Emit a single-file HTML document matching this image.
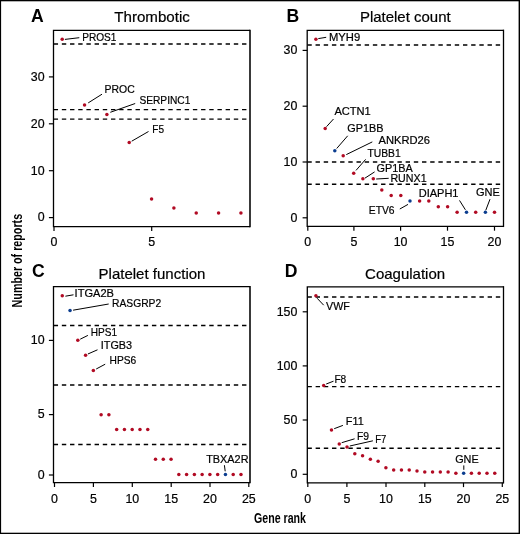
<!DOCTYPE html>
<html><head><meta charset="utf-8"><style>
html,body{margin:0;padding:0;background:#fff;}
svg{display:block;will-change:transform;}
text{font-family:"Liberation Sans", sans-serif;fill:#000;stroke:#000;stroke-width:0.2px;}
text.b{stroke-width:0;}
</style></head><body>
<svg width="520" height="534" viewBox="0 0 520 534">
<rect x="0" y="0" width="520" height="534" fill="#fff"/>
<text x="30.9" y="22" font-size="17.6" text-anchor="start" font-weight="bold" class="b" >A</text>
<text x="152.1" y="21.6" font-size="15" text-anchor="middle" font-weight="normal" textLength="75.6" lengthAdjust="spacingAndGlyphs" >Thrombotic</text>
<path d="M53.5,30.35H250.0M53.5,226.7H250.0M53.5,29.700000000000003V227.35" fill="none" stroke="#000" stroke-width="1.3"/>
<path d="M250.0,29.700000000000003V227.35" fill="none" stroke="#000" stroke-width="1.55"/>
<line x1="48.9" y1="217.6" x2="53.5" y2="217.6" stroke="#000" stroke-width="1.2" />
<text x="44.6" y="221.4" font-size="12.4" text-anchor="end" font-weight="normal" >0</text>
<line x1="48.9" y1="170.7" x2="53.5" y2="170.7" stroke="#000" stroke-width="1.2" />
<text x="44.6" y="174.5" font-size="12.4" text-anchor="end" font-weight="normal" >10</text>
<line x1="48.9" y1="123.8" x2="53.5" y2="123.8" stroke="#000" stroke-width="1.2" />
<text x="44.6" y="127.6" font-size="12.4" text-anchor="end" font-weight="normal" >20</text>
<line x1="48.9" y1="76.9" x2="53.5" y2="76.9" stroke="#000" stroke-width="1.2" />
<text x="44.6" y="80.7" font-size="12.4" text-anchor="end" font-weight="normal" >30</text>
<line x1="54.0" y1="226.7" x2="54.0" y2="231.0" stroke="#000" stroke-width="1.2" />
<text x="54.0" y="246.1" font-size="12.4" text-anchor="middle" font-weight="normal" >0</text>
<line x1="151.7" y1="226.7" x2="151.7" y2="231.0" stroke="#000" stroke-width="1.2" />
<text x="151.7" y="246.1" font-size="12.4" text-anchor="middle" font-weight="normal" >5</text>
<line x1="53.65" y1="44.0" x2="248.4" y2="44.0" stroke="#000" stroke-width="1.45" stroke-dasharray="4.4 3.79"/>
<line x1="53.65" y1="109.6" x2="248.4" y2="109.6" stroke="#000" stroke-width="1.45" stroke-dasharray="4.4 3.79"/>
<line x1="53.65" y1="119.1" x2="248.4" y2="119.1" stroke="#000" stroke-width="1.45" stroke-dasharray="4.4 3.79"/>
<circle cx="62.2" cy="39.2" r="1.75" fill="#b10a23"/>
<circle cx="84.54" cy="104.9" r="1.75" fill="#b10a23"/>
<circle cx="106.88" cy="114.4" r="1.75" fill="#b10a23"/>
<circle cx="129.22" cy="142.5" r="1.75" fill="#b10a23"/>
<circle cx="151.56" cy="198.9" r="1.75" fill="#b10a23"/>
<circle cx="173.9" cy="208.1" r="1.75" fill="#b10a23"/>
<circle cx="196.24" cy="213" r="1.75" fill="#b10a23"/>
<circle cx="218.58" cy="213" r="1.75" fill="#b10a23"/>
<circle cx="240.92" cy="213" r="1.75" fill="#b10a23"/>
<line x1="64.9" y1="39.4" x2="79.3" y2="37.7" stroke="#000" stroke-width="1" />
<text x="82.2" y="40.8" font-size="11" text-anchor="start" font-weight="normal" textLength="34.3" lengthAdjust="spacingAndGlyphs" >PROS1</text>
<line x1="88.2" y1="102.9" x2="102" y2="94.2" stroke="#000" stroke-width="1" />
<text x="104.5" y="93.3" font-size="11" text-anchor="start" font-weight="normal" textLength="30.2" lengthAdjust="spacingAndGlyphs" >PROC</text>
<line x1="110.3" y1="112.3" x2="135.2" y2="103.5" stroke="#000" stroke-width="1" />
<text x="139.4" y="104" font-size="11" text-anchor="start" font-weight="normal" textLength="51" lengthAdjust="spacingAndGlyphs" >SERPINC1</text>
<line x1="131.7" y1="141.2" x2="148.5" y2="131.5" stroke="#000" stroke-width="1" />
<text x="152.3" y="132.5" font-size="11" text-anchor="start" font-weight="normal" textLength="11.7" lengthAdjust="spacingAndGlyphs" >F5</text>
<text x="286.4" y="22" font-size="17.6" text-anchor="start" font-weight="bold" class="b" >B</text>
<text x="405.3" y="21.6" font-size="15" text-anchor="middle" font-weight="normal" textLength="90.7" lengthAdjust="spacingAndGlyphs" >Platelet count</text>
<path d="M307.2,30.3H503.5M307.2,226.4H503.5M307.2,29.650000000000002V227.05" fill="none" stroke="#000" stroke-width="1.3"/>
<path d="M503.5,29.650000000000002V227.05" fill="none" stroke="#000" stroke-width="1.3"/>
<line x1="302.59999999999997" y1="217.8" x2="307.2" y2="217.8" stroke="#000" stroke-width="1.2" />
<text x="297.4" y="221.60000000000002" font-size="12.4" text-anchor="end" font-weight="normal" >0</text>
<line x1="302.59999999999997" y1="162.0" x2="307.2" y2="162.0" stroke="#000" stroke-width="1.2" />
<text x="297.4" y="165.8" font-size="12.4" text-anchor="end" font-weight="normal" >10</text>
<line x1="302.59999999999997" y1="106.2" x2="307.2" y2="106.2" stroke="#000" stroke-width="1.2" />
<text x="297.4" y="110.0" font-size="12.4" text-anchor="end" font-weight="normal" >20</text>
<line x1="302.59999999999997" y1="50.4" x2="307.2" y2="50.4" stroke="#000" stroke-width="1.2" />
<text x="297.4" y="54.199999999999996" font-size="12.4" text-anchor="end" font-weight="normal" >30</text>
<line x1="307.8" y1="226.4" x2="307.8" y2="230.70000000000002" stroke="#000" stroke-width="1.2" />
<text x="307.8" y="246.0" font-size="12.4" text-anchor="middle" font-weight="normal" >0</text>
<line x1="353.9" y1="226.4" x2="353.9" y2="230.70000000000002" stroke="#000" stroke-width="1.2" />
<text x="353.9" y="246.0" font-size="12.4" text-anchor="middle" font-weight="normal" >5</text>
<line x1="400.6" y1="226.4" x2="400.6" y2="230.70000000000002" stroke="#000" stroke-width="1.2" />
<text x="400.6" y="246.0" font-size="12.4" text-anchor="middle" font-weight="normal" >10</text>
<line x1="447.5" y1="226.4" x2="447.5" y2="230.70000000000002" stroke="#000" stroke-width="1.2" />
<text x="447.5" y="246.0" font-size="12.4" text-anchor="middle" font-weight="normal" >15</text>
<line x1="494.5" y1="226.4" x2="494.5" y2="230.70000000000002" stroke="#000" stroke-width="1.2" />
<text x="494.5" y="246.0" font-size="12.4" text-anchor="middle" font-weight="normal" >20</text>
<line x1="307.34999999999997" y1="44.9" x2="501.9" y2="44.9" stroke="#000" stroke-width="1.45" stroke-dasharray="4.4 3.79"/>
<line x1="307.34999999999997" y1="162.0" x2="501.9" y2="162.0" stroke="#000" stroke-width="1.45" stroke-dasharray="4.4 3.79"/>
<line x1="307.34999999999997" y1="184.3" x2="501.9" y2="184.3" stroke="#000" stroke-width="1.45" stroke-dasharray="4.4 3.79"/>
<circle cx="315.9" cy="39.24" r="1.75" fill="#b10a23"/>
<circle cx="325.2" cy="128.52" r="1.75" fill="#b10a23"/>
<circle cx="334.8" cy="150.84" r="1.75" fill="#0b3d8f"/>
<circle cx="343.2" cy="155.8" r="1.75" fill="#b10a23"/>
<circle cx="353.7" cy="173.16" r="1.75" fill="#b10a23"/>
<circle cx="362.9" cy="178.74" r="1.75" fill="#b10a23"/>
<circle cx="373.3" cy="178.74" r="1.75" fill="#b10a23"/>
<circle cx="381.8" cy="189.9" r="1.75" fill="#b10a23"/>
<circle cx="391.2" cy="195.48" r="1.75" fill="#b10a23"/>
<circle cx="400.8" cy="195.48" r="1.75" fill="#b10a23"/>
<circle cx="410" cy="201.06" r="1.75" fill="#0b3d8f"/>
<circle cx="419.6" cy="201.06" r="1.75" fill="#b10a23"/>
<circle cx="428.8" cy="201.06" r="1.75" fill="#b10a23"/>
<circle cx="438.3" cy="206.64" r="1.75" fill="#b10a23"/>
<circle cx="447.6" cy="206.64" r="1.75" fill="#b10a23"/>
<circle cx="457.1" cy="212.22" r="1.75" fill="#b10a23"/>
<circle cx="466.5" cy="212.22" r="1.75" fill="#0b3d8f"/>
<circle cx="475.7" cy="212.22" r="1.75" fill="#b10a23"/>
<circle cx="485.4" cy="212.22" r="1.75" fill="#0b3d8f"/>
<circle cx="494.5" cy="212.22" r="1.75" fill="#b10a23"/>
<line x1="318.3" y1="38.6" x2="326.2" y2="37.3" stroke="#000" stroke-width="1" />
<text x="329" y="40.5" font-size="11" text-anchor="start" font-weight="normal" textLength="31.2" lengthAdjust="spacingAndGlyphs" >MYH9</text>
<line x1="326.5" y1="126.7" x2="333.5" y2="119" stroke="#000" stroke-width="1" />
<text x="334.4" y="114.6" font-size="11" text-anchor="start" font-weight="normal" textLength="36.4" lengthAdjust="spacingAndGlyphs" >ACTN1</text>
<line x1="336.7" y1="148.5" x2="347.7" y2="135.8" stroke="#000" stroke-width="1" />
<text x="347.3" y="131.5" font-size="11" text-anchor="start" font-weight="normal" textLength="36.2" lengthAdjust="spacingAndGlyphs" >GP1BB</text>
<line x1="346.3" y1="154.6" x2="372.3" y2="141.9" stroke="#000" stroke-width="1" />
<text x="378.5" y="144.2" font-size="11" text-anchor="start" font-weight="normal" textLength="51.5" lengthAdjust="spacingAndGlyphs" >ANKRD26</text>
<line x1="356" y1="170.4" x2="365.6" y2="159.4" stroke="#000" stroke-width="1" />
<text x="367.5" y="157.0" font-size="11" text-anchor="start" font-weight="normal" textLength="33.2" lengthAdjust="spacingAndGlyphs" >TUBB1</text>
<line x1="365" y1="178.1" x2="374.6" y2="171.9" stroke="#000" stroke-width="1" />
<text x="376.5" y="172" font-size="11" text-anchor="start" font-weight="normal" textLength="36.2" lengthAdjust="spacingAndGlyphs" >GP1BA</text>
<line x1="376.2" y1="179" x2="388.7" y2="178.3" stroke="#000" stroke-width="1" />
<text x="390.4" y="181.7" font-size="11" text-anchor="start" font-weight="normal" textLength="36.2" lengthAdjust="spacingAndGlyphs" >RUNX1</text>
<line x1="399.8" y1="209" x2="408" y2="204.4" stroke="#000" stroke-width="1" />
<text x="368.8" y="213.5" font-size="11" text-anchor="start" font-weight="normal" textLength="25.8" lengthAdjust="spacingAndGlyphs" >ETV6</text>
<line x1="459.5" y1="200.4" x2="465.4" y2="209.8" stroke="#000" stroke-width="1" />
<text x="418.7" y="196.5" font-size="11" text-anchor="start" font-weight="normal" textLength="39.8" lengthAdjust="spacingAndGlyphs" >DIAPH1</text>
<line x1="490" y1="199.2" x2="485.8" y2="210.2" stroke="#000" stroke-width="1" />
<text x="476" y="196.2" font-size="11" text-anchor="start" font-weight="normal" textLength="23.9" lengthAdjust="spacingAndGlyphs" >GNE</text>
<text x="32.0" y="276.5" font-size="17.6" text-anchor="start" font-weight="bold" class="b" >C</text>
<text x="152" y="278.9" font-size="15" text-anchor="middle" font-weight="normal" textLength="106.9" lengthAdjust="spacingAndGlyphs" >Platelet function</text>
<path d="M53.5,286.6H250.0M53.5,482.7H250.0M53.5,285.95000000000005V483.34999999999997" fill="none" stroke="#000" stroke-width="1.3"/>
<path d="M250.0,285.95000000000005V483.34999999999997" fill="none" stroke="#000" stroke-width="1.55"/>
<line x1="48.9" y1="475.0" x2="53.5" y2="475.0" stroke="#000" stroke-width="1.2" />
<text x="44.6" y="478.8" font-size="12.4" text-anchor="end" font-weight="normal" >0</text>
<line x1="48.9" y1="414.6" x2="53.5" y2="414.6" stroke="#000" stroke-width="1.2" />
<text x="44.6" y="418.40000000000003" font-size="12.4" text-anchor="end" font-weight="normal" >5</text>
<line x1="48.9" y1="340.4" x2="53.5" y2="340.4" stroke="#000" stroke-width="1.2" />
<text x="44.6" y="344.2" font-size="12.4" text-anchor="end" font-weight="normal" >10</text>
<line x1="54.5" y1="482.7" x2="54.5" y2="487.0" stroke="#000" stroke-width="1.2" />
<text x="54.5" y="503.3" font-size="12.4" text-anchor="middle" font-weight="normal" >0</text>
<line x1="93.4" y1="482.7" x2="93.4" y2="487.0" stroke="#000" stroke-width="1.2" />
<text x="93.4" y="503.3" font-size="12.4" text-anchor="middle" font-weight="normal" >5</text>
<line x1="132.3" y1="482.7" x2="132.3" y2="487.0" stroke="#000" stroke-width="1.2" />
<text x="132.3" y="503.3" font-size="12.4" text-anchor="middle" font-weight="normal" >10</text>
<line x1="171.2" y1="482.7" x2="171.2" y2="487.0" stroke="#000" stroke-width="1.2" />
<text x="171.2" y="503.3" font-size="12.4" text-anchor="middle" font-weight="normal" >15</text>
<line x1="210.0" y1="482.7" x2="210.0" y2="487.0" stroke="#000" stroke-width="1.2" />
<text x="210.0" y="503.3" font-size="12.4" text-anchor="middle" font-weight="normal" >20</text>
<line x1="248.8" y1="482.7" x2="248.8" y2="487.0" stroke="#000" stroke-width="1.2" />
<text x="248.8" y="503.3" font-size="12.4" text-anchor="middle" font-weight="normal" >25</text>
<line x1="53.65" y1="325.5" x2="248.4" y2="325.5" stroke="#000" stroke-width="1.45" stroke-dasharray="4.4 3.79"/>
<line x1="53.65" y1="385.0" x2="248.4" y2="385.0" stroke="#000" stroke-width="1.45" stroke-dasharray="4.4 3.79"/>
<line x1="53.65" y1="444.5" x2="248.4" y2="444.5" stroke="#000" stroke-width="1.45" stroke-dasharray="4.4 3.79"/>
<circle cx="62.27" cy="295.8" r="1.75" fill="#b10a23"/>
<circle cx="70.04" cy="310.4" r="1.75" fill="#0b3d8f"/>
<circle cx="77.81" cy="340.2" r="1.75" fill="#b10a23"/>
<circle cx="85.58" cy="355.2" r="1.75" fill="#b10a23"/>
<circle cx="93.35" cy="370.4" r="1.75" fill="#b10a23"/>
<circle cx="101.12" cy="414.7" r="1.75" fill="#b10a23"/>
<circle cx="108.89" cy="414.7" r="1.75" fill="#b10a23"/>
<circle cx="116.66" cy="429.6" r="1.75" fill="#b10a23"/>
<circle cx="124.43" cy="429.6" r="1.75" fill="#b10a23"/>
<circle cx="132.2" cy="429.6" r="1.75" fill="#b10a23"/>
<circle cx="139.97" cy="429.6" r="1.75" fill="#b10a23"/>
<circle cx="147.74" cy="429.6" r="1.75" fill="#b10a23"/>
<circle cx="155.51" cy="459.3" r="1.75" fill="#b10a23"/>
<circle cx="163.28" cy="459.3" r="1.75" fill="#b10a23"/>
<circle cx="171.05" cy="459.3" r="1.75" fill="#b10a23"/>
<circle cx="178.82" cy="474.4" r="1.75" fill="#b10a23"/>
<circle cx="186.59" cy="474.4" r="1.75" fill="#b10a23"/>
<circle cx="194.36" cy="474.4" r="1.75" fill="#b10a23"/>
<circle cx="202.13" cy="474.4" r="1.75" fill="#b10a23"/>
<circle cx="209.9" cy="474.4" r="1.75" fill="#b10a23"/>
<circle cx="217.67" cy="474.4" r="1.75" fill="#b10a23"/>
<circle cx="225.44" cy="474.4" r="1.75" fill="#0b3d8f"/>
<circle cx="233.21" cy="474.4" r="1.75" fill="#b10a23"/>
<circle cx="240.98" cy="474.4" r="1.75" fill="#b10a23"/>
<line x1="65.4" y1="296.2" x2="73.5" y2="294.8" stroke="#000" stroke-width="1" />
<text x="74.6" y="297.3" font-size="11" text-anchor="start" font-weight="normal" textLength="39.4" lengthAdjust="spacingAndGlyphs" >ITGA2B</text>
<line x1="73.1" y1="310.2" x2="108.7" y2="304" stroke="#000" stroke-width="1" />
<text x="112" y="307.2" font-size="11" text-anchor="start" font-weight="normal" textLength="49.2" lengthAdjust="spacingAndGlyphs" >RASGRP2</text>
<line x1="80.2" y1="339.2" x2="87.9" y2="335.4" stroke="#000" stroke-width="1" />
<text x="90.8" y="336.3" font-size="11" text-anchor="start" font-weight="normal" textLength="26.3" lengthAdjust="spacingAndGlyphs" >HPS1</text>
<line x1="87.9" y1="354" x2="97.5" y2="349.8" stroke="#000" stroke-width="1" />
<text x="100.8" y="349.2" font-size="11" text-anchor="start" font-weight="normal" textLength="31.3" lengthAdjust="spacingAndGlyphs" >ITGB3</text>
<line x1="96.2" y1="369" x2="105.2" y2="364.2" stroke="#000" stroke-width="1" />
<text x="109.6" y="364.2" font-size="11" text-anchor="start" font-weight="normal" textLength="26.7" lengthAdjust="spacingAndGlyphs" >HPS6</text>
<line x1="224.4" y1="465.2" x2="225.2" y2="471.3" stroke="#000" stroke-width="1" />
<text x="206.2" y="462.7" font-size="11" text-anchor="start" font-weight="normal" textLength="42.3" lengthAdjust="spacingAndGlyphs" >TBXA2R</text>
<text x="284.7" y="276.5" font-size="17.6" text-anchor="start" font-weight="bold" class="b" >D</text>
<text x="405.1" y="278.9" font-size="15" text-anchor="middle" font-weight="normal" textLength="80.1" lengthAdjust="spacingAndGlyphs" >Coagulation</text>
<path d="M307.3,286.8H503.5M307.3,482.8H503.5M307.3,286.15000000000003V483.45" fill="none" stroke="#000" stroke-width="1.3"/>
<path d="M503.5,286.15000000000003V483.45" fill="none" stroke="#000" stroke-width="1.3"/>
<line x1="302.7" y1="474.3" x2="307.3" y2="474.3" stroke="#000" stroke-width="1.2" />
<text x="297.4" y="478.1" font-size="12.4" text-anchor="end" font-weight="normal" >0</text>
<line x1="302.7" y1="420.0" x2="307.3" y2="420.0" stroke="#000" stroke-width="1.2" />
<text x="297.4" y="423.8" font-size="12.4" text-anchor="end" font-weight="normal" >50</text>
<line x1="302.7" y1="365.9" x2="307.3" y2="365.9" stroke="#000" stroke-width="1.2" />
<text x="297.4" y="369.7" font-size="12.4" text-anchor="end" font-weight="normal" >100</text>
<line x1="302.7" y1="311.8" x2="307.3" y2="311.8" stroke="#000" stroke-width="1.2" />
<text x="297.4" y="315.6" font-size="12.4" text-anchor="end" font-weight="normal" >150</text>
<line x1="307.8" y1="482.8" x2="307.8" y2="487.1" stroke="#000" stroke-width="1.2" />
<text x="307.8" y="503.3" font-size="12.4" text-anchor="middle" font-weight="normal" >0</text>
<line x1="346.9" y1="482.8" x2="346.9" y2="487.1" stroke="#000" stroke-width="1.2" />
<text x="346.9" y="503.3" font-size="12.4" text-anchor="middle" font-weight="normal" >5</text>
<line x1="386.0" y1="482.8" x2="386.0" y2="487.1" stroke="#000" stroke-width="1.2" />
<text x="386.0" y="503.3" font-size="12.4" text-anchor="middle" font-weight="normal" >10</text>
<line x1="424.8" y1="482.8" x2="424.8" y2="487.1" stroke="#000" stroke-width="1.2" />
<text x="424.8" y="503.3" font-size="12.4" text-anchor="middle" font-weight="normal" >15</text>
<line x1="463.5" y1="482.8" x2="463.5" y2="487.1" stroke="#000" stroke-width="1.2" />
<text x="463.5" y="503.3" font-size="12.4" text-anchor="middle" font-weight="normal" >20</text>
<line x1="502.3" y1="482.8" x2="502.3" y2="487.1" stroke="#000" stroke-width="1.2" />
<text x="502.3" y="503.3" font-size="12.4" text-anchor="middle" font-weight="normal" >25</text>
<line x1="307.45" y1="297.0" x2="501.9" y2="297.0" stroke="#000" stroke-width="1.45" stroke-dasharray="4.4 3.79"/>
<line x1="307.45" y1="386.6" x2="501.9" y2="386.6" stroke="#000" stroke-width="1.45" stroke-dasharray="4.4 3.79"/>
<line x1="307.45" y1="448.3" x2="501.9" y2="448.3" stroke="#000" stroke-width="1.45" stroke-dasharray="4.4 3.79"/>
<circle cx="315.92" cy="295.7" r="1.75" fill="#b10a23"/>
<circle cx="323.7" cy="385.5" r="1.75" fill="#b10a23"/>
<circle cx="331.47" cy="429.9" r="1.75" fill="#b10a23"/>
<circle cx="339.25" cy="444.0" r="1.75" fill="#b10a23"/>
<circle cx="347.02" cy="446.9" r="1.75" fill="#b10a23"/>
<circle cx="354.8" cy="453.7" r="1.75" fill="#b10a23"/>
<circle cx="362.57" cy="455.8" r="1.75" fill="#b10a23"/>
<circle cx="370.35" cy="459.2" r="1.75" fill="#b10a23"/>
<circle cx="378.12" cy="461.3" r="1.75" fill="#b10a23"/>
<circle cx="385.9" cy="467.7" r="1.75" fill="#b10a23"/>
<circle cx="393.67" cy="470" r="1.75" fill="#b10a23"/>
<circle cx="401.45" cy="470" r="1.75" fill="#b10a23"/>
<circle cx="409.22" cy="470" r="1.75" fill="#b10a23"/>
<circle cx="417.0" cy="471" r="1.75" fill="#b10a23"/>
<circle cx="424.77" cy="471.9" r="1.75" fill="#b10a23"/>
<circle cx="432.55" cy="471.9" r="1.75" fill="#b10a23"/>
<circle cx="440.32" cy="471.9" r="1.75" fill="#b10a23"/>
<circle cx="448.1" cy="471.9" r="1.75" fill="#b10a23"/>
<circle cx="455.88" cy="473.3" r="1.75" fill="#b10a23"/>
<circle cx="463.65" cy="473.3" r="1.75" fill="#0b3d8f"/>
<circle cx="471.42" cy="473.3" r="1.75" fill="#b10a23"/>
<circle cx="479.2" cy="473.3" r="1.75" fill="#b10a23"/>
<circle cx="486.98" cy="473.3" r="1.75" fill="#b10a23"/>
<circle cx="494.75" cy="473.3" r="1.75" fill="#b10a23"/>
<line x1="317.1" y1="298.2" x2="323.7" y2="305.2" stroke="#000" stroke-width="1" />
<text x="326" y="309.8" font-size="11" text-anchor="start" font-weight="normal" textLength="23.8" lengthAdjust="spacingAndGlyphs" >VWF</text>
<line x1="326.2" y1="384" x2="333.5" y2="381.2" stroke="#000" stroke-width="1" />
<text x="334.4" y="382.5" font-size="11" text-anchor="start" font-weight="normal" textLength="11.9" lengthAdjust="spacingAndGlyphs" >F8</text>
<line x1="334.2" y1="428.7" x2="342.9" y2="425.4" stroke="#000" stroke-width="1" />
<text x="345.8" y="425.4" font-size="11" text-anchor="start" font-weight="normal" textLength="17.9" lengthAdjust="spacingAndGlyphs" >F11</text>
<line x1="341.7" y1="442.7" x2="354.6" y2="438.8" stroke="#000" stroke-width="1" />
<text x="356.9" y="439.8" font-size="11" text-anchor="start" font-weight="normal" textLength="12.1" lengthAdjust="spacingAndGlyphs" >F9</text>
<line x1="349.8" y1="446" x2="372.9" y2="440.8" stroke="#000" stroke-width="1" />
<text x="375.2" y="443.3" font-size="11" text-anchor="start" font-weight="normal" textLength="11.1" lengthAdjust="spacingAndGlyphs" >F7</text>
<line x1="463.8" y1="465.4" x2="463.8" y2="469.8" stroke="#000" stroke-width="1" />
<text x="455.2" y="462.9" font-size="11" text-anchor="start" font-weight="normal" textLength="23.5" lengthAdjust="spacingAndGlyphs" >GNE</text>
<text transform="translate(22.4,307.4) rotate(-90)" font-size="14" font-weight="bold" class="b" textLength="93.5" lengthAdjust="spacingAndGlyphs">Number of reports</text>
<text x="254" y="522.5" font-size="15" text-anchor="start" font-weight="bold" textLength="52" lengthAdjust="spacingAndGlyphs" class="b" >Gene rank</text>
<rect x="0" y="0" width="1.1" height="534" fill="#000"/>
<rect x="0" y="0" width="520" height="1.3" fill="#000"/>
<rect x="518.6" y="0" width="1.4" height="534" fill="#000"/>
<rect x="0" y="532.7" width="520" height="1.3" fill="#000"/>
</svg>
</body></html>
